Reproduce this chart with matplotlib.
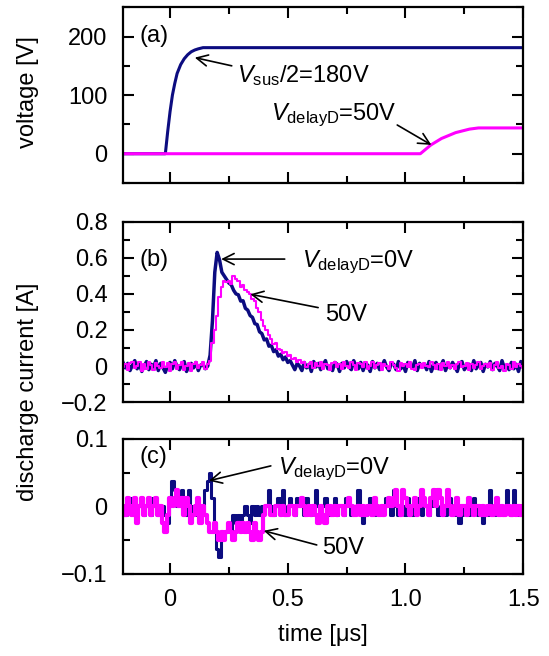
"""Applied voltage and discharge current waveforms, panels (a)-(c)."""
import numpy as np
import matplotlib

matplotlib.use("Agg")
import matplotlib.pyplot as plt
from matplotlib.ticker import MultipleLocator

NAVY = "#0c0c80"
MAGENTA = "#ff00ff"

plt.rcParams.update({
    "font.family": "sans-serif",
    "font.sans-serif": ["Liberation Sans", "DejaVu Sans"],
    "font.size": 17,
    "mathtext.fontset": "custom",
    "mathtext.rm": "Liberation Sans",
    "mathtext.it": "Liberation Sans:italic",
})

# ---- (a) applied voltages [V] ----
t_sus = [-0.2, -0.02, -0.01, 0.0, 0.01, 0.02, 0.03, 0.045, 0.06, 0.075,
         0.09, 0.105, 0.12, 0.14, 1.5]
v_sus = [0, 0, 38, 72, 100, 120, 137, 152, 162, 169, 174, 177, 179, 181, 181]
t_delay = [-0.2, 1.063, 1.108, 1.153, 1.213, 1.272, 1.31, 1.5]
v_delay = [0, 0, 15, 26, 36, 42, 44, 44]

# ---- (b) discharge current [mA], sampled every 10 ns from -0.2 us ----
T0, DT = -0.2, 0.01
cur_0v = [
    20, -10, 15, -25, 5, 30, -15, 10, -30, 0, 25, -20, 10, -5, 30, -25, 15,
    -10, -35, 5, 20, -15, 30, -5, -20, 10, 25, -30, 0, 15, -10, 20, -25, 5,
    10, -15, 0,
    60, 250, 520, 630, 590, 520, 500, 480, 460, 450, 420, 400, 395, 360, 362,
    320, 310, 280, 270, 235, 230, 190, 180, 145, 150, 110, 115, 80, 90, 55,
    65, 35, 50, 20,
    30, 5, -20, 15, 0, -25, 20, -10, 10, -30, 25, -5, 15, -20, 5, 30, -15, 0,
    -25, 20, 10, -30, 15, -10, 25, -5, -20, 30, 0, -15, 20, -25, 10, 5, -30,
    25, -10, 15, -20, 0, 30, -5, -25, 15, 10, -20, 25, -15, 5, -30, 20, 0,
    -10, 30, -25, 15, -5, 10, -20, 25, -30, 5, 20, -15, 0, 30, -25, 10, -10,
    20, -5, -30, 15, 25, -20, 0, 10, -25, 30, -15, 5, 20, -30, 10, -5, 25,
    -20, 15, 0, -25, 30, -10, 5, -20, 20, -15, 10, -30, 25, 0,
]
cur_50v = [
    -5, 10, -20, 15, 25, -10, 0, 20, -25, 10, -15, 25, 5, -20, 15, 0, -10,
    20, -5, 15, -25, 10, 20, -15, 5, 25, -20, 0, 15, -25, 10, 20, -10, 5, 25,
    -15, 10,
    30, 130, 200, 280, 380, 440, 470, 465, 470, 455, 500, 480, 470, 440, 450,
    420, 410, 400, 370, 360, 320, 300, 255, 220, 200, 170, 150, 120, 130, 95,
    90, 75, 80, 55, 60, 40, 45, 25, 35, 15,
    20, -5, 10, 25, -10, 15, 0, 20, -15, 10, 5, -20, 15, 25, -5, 10, -15, 20,
    0, -10, 25, 5, -20, 15, 10, -5, 20, -15, 0, 25, -10, 5, 15, -20, 10, 0,
    -15, 20, 5, -10, -25, 15, 0, 10, -5, 20, -15, -20, 5, 10, -10, 15, 0, -5,
    20, 5, -15, 10, -20, 15, 0, 25, -10, 5, -15, 10, 20, -5, 0, 15, -20, 10,
    -10, 5, 20, -15, 0, 10, -5, 15, -20, 5, 25, -10, 0, -25, 10, 5, -15, 20,
    -5, 10, 0, -10,
]

# ---- (c) discharge current, digitiser counts (1 count = 12.5 mA) ----
LSB = 0.0125
cnt_0v = [
    0, -1, 0, 1, 0, -1, 0, 0, 1, -1, 0, 0, -1, 1, 0, -1, 0, 0, -1, -2,
    1, 3, 2, 0, 1, 2, 0, -1, 2, 0, -1, 0, -1, 0, -1, 2, 3, 4, 1, -2,
    -5, -6, -4, -3, -3, -2, -3, -1, -2, -1, -2, -1, 0, -1, -2, 0, -1, 0, -1,
    0, 0,
    0, 2, 0, -1, 0, 1, 0, 2, -1, 0, 1, 0, -1, 1, 0, 0, -1, 1, 0, -1,
    0, 2, 0, -1, 0, 1, 0, -1, 0, 1, -1, 0, 0, -1, 1, 0, -1, 0, 0, 2,
    0, -2, -1, 0, 1, 0, -1, 0, 0, -1, 0, 1, 0, -1, 2, 0, -1, 0, 0, -1,
    1, 0, -1, 0, 0, 1, -1, 0, 0, -1, 0, 1, 0, -1, 0, 0, -1, 0, 1, 0,
    -1, 0, -2, -1, 0, 0, -1, 0, 1, 0, -1, 0, -2, 0, -1, 2, 0, -1, 0, 0,
    -1, 0, 2, 0, -1, 2, 0, -1, 0, -1,
]
cnt_50v = [
    0, -1, 1, 0, -1, 1, -2, 0, 1, -1, 0, 1, -1, 0, 1, -1, 0, -2, -3, -1,
    1, 0, 1, 2, 0, 1, -1, 1, 0, -2, -1, 0, 1, -2, 0, -1, -2, -3, -3, -2,
    -3, -4, -3, -4, -3, -2, -3, -4, -3, -2, -3, -2, -3, -2, -3, -4, -2, -3,
    -4, -3, -1, 0,
    0, -1, -1, 0, 0, -1, 0, -1, -1, 0,
    0, -1, 0, 0, 1, 0, -1, 0, -1, 0,
    -1, -2, 0, -1, -2, 0, 0, -1, 0, -1,
    0, 0, -1, 0, 1, 0, -1, -1, 0, -1,
    0, -1, 0, 0, -1, 1, 0, -1, 0, -1,
    0, 1, 0, 1, 2, 0, -1, 2, 1, 0,
    -1, 0, 1, -1, 0, 2, 1, 0, -1, 1,
    2, 0, 2, 1, -1, 0, 2, 0, -1, 0,
    1, -1, 0, 0, -1, 1, 0, -1, 0, 0,
    -1, 0, -1, 0, 0, -1, 0, 1, -1, 0,
    -1, 0, 0, -1, 0, -1, 0, -1, 0,
]

Y_TICKS_A = [0, 100, 200]
Y_LABELS_A = ["0", "100", "200"]
Y_TICKS_B = [-0.2, 0.0, 0.2, 0.4, 0.6, 0.8]
Y_LABELS_B = ["\u22120.2", "0", "0.2", "0.4", "0.6", "0.8"]
Y_TICKS_C = [-0.1, 0.0, 0.1]
Y_LABELS_C = ["\u22120.1", "0", "0.1"]
X_TICKS = [0, 0.5, 1.0, 1.5]
X_LABELS = ["0", "0.5", "1.0", "1.5"]


def sample_times(vals):
    return T0 + DT * np.arange(len(vals))


def style(ax, ylim, yticks, ylabels, yminor):
    ax.set_xlim(-0.2, 1.5)
    ax.set_ylim(*ylim)
    ax.set_xticks(X_TICKS, X_LABELS)
    ax.xaxis.set_minor_locator(MultipleLocator(0.25))
    ax.set_yticks(yticks, ylabels)
    ax.yaxis.set_minor_locator(MultipleLocator(yminor))
    ax.tick_params(which="both", direction="in", top=True, right=True,
                   width=1.5)
    ax.tick_params(which="major", length=8)
    ax.tick_params(which="minor", length=5)
    ax.tick_params(axis="y", pad=11)
    ax.tick_params(axis="x", pad=11)
    for s in ax.spines.values():
        s.set_linewidth(1.6)


def arrow(ax, tip, tail):
    ax.annotate("", xy=tip, xytext=tail,
                arrowprops=dict(arrowstyle="->", lw=1.2, color="k",
                                shrinkA=0, shrinkB=0, mutation_scale=20))


fig = plt.figure(figsize=(5.49, 6.56), dpi=100)
ax_a = fig.add_axes([0.224, 0.721, 0.729, 0.268])
ax_b = fig.add_axes([0.224, 0.387, 0.729, 0.275])
ax_c = fig.add_axes([0.224, 0.125, 0.729, 0.206])

# (a)
ax_a.plot(t_sus, v_sus, color=NAVY, lw=2.2)
ax_a.plot(t_delay, v_delay, color=MAGENTA, lw=2.2)
style(ax_a, (-50, 250), Y_TICKS_A, Y_LABELS_A, 50)
ax_a.tick_params(axis="x", labelbottom=False)
ax_a.text(-0.13, 190, "(a)", va="baseline")
arrow(ax_a, (0.105, 164), (0.262, 150))
ax_a.text(0.284, 122, r"$V_{\rm sus}$/2=180V", va="baseline")
arrow(ax_a, (1.11, 15), (0.965, 49))
ax_a.text(0.427, 57, r"$V_{\rm delayD}$=50V", va="baseline")

# (b)
ax_b.plot(sample_times(cur_0v), np.array(cur_0v) / 1000, color=NAVY, lw=2.5)
ax_b.plot(sample_times(cur_50v), np.array(cur_50v) / 1000, color=MAGENTA,
          lw=1.5, drawstyle="steps-mid")
style(ax_b, (-0.2, 0.8), Y_TICKS_B, Y_LABELS_B, 0.1)
ax_b.tick_params(axis="x", labelbottom=False)
ax_b.text(-0.13, 0.556, "(b)", va="baseline")
arrow(ax_b, (0.217, 0.593), (0.487, 0.593))
ax_b.text(0.561, 0.546, r"$V_{\rm delayD}$=0V", va="baseline")
arrow(ax_b, (0.341, 0.398), (0.629, 0.324))
ax_b.text(0.659, 0.25, "50V", va="baseline")

# (c)
ax_c.plot(sample_times(cnt_0v), np.array(cnt_0v) * LSB, color=NAVY, lw=2.2,
          drawstyle="steps-mid")
ax_c.plot(sample_times(cnt_50v), np.array(cnt_50v) * LSB, color=MAGENTA,
          lw=3.0, drawstyle="steps-mid")
style(ax_c, (-0.1, 0.1), Y_TICKS_C, Y_LABELS_C, 0.05)
ax_c.text(-0.13, 0.065, "(c)", va="baseline")
arrow(ax_c, (0.165, 0.038), (0.428, 0.06))
ax_c.text(0.458, 0.048, r"$V_{\rm delayD}$=0V", va="baseline")
arrow(ax_c, (0.398, -0.036), (0.623, -0.057))
ax_c.text(0.646, -0.070, "50V", va="baseline")

fig.text(0.051, 0.86, "voltage [V]", rotation=90, ha="center", va="center")
fig.text(0.051, 0.402, "discharge current [A]", rotation=90,
         ha="center", va="center")
fig.text(0.224 + 0.729 / 2, 0.032, "time [\u03bcs]", ha="center",
         va="center")

fig.savefig("out.png", dpi=100)
plt.close(fig)
